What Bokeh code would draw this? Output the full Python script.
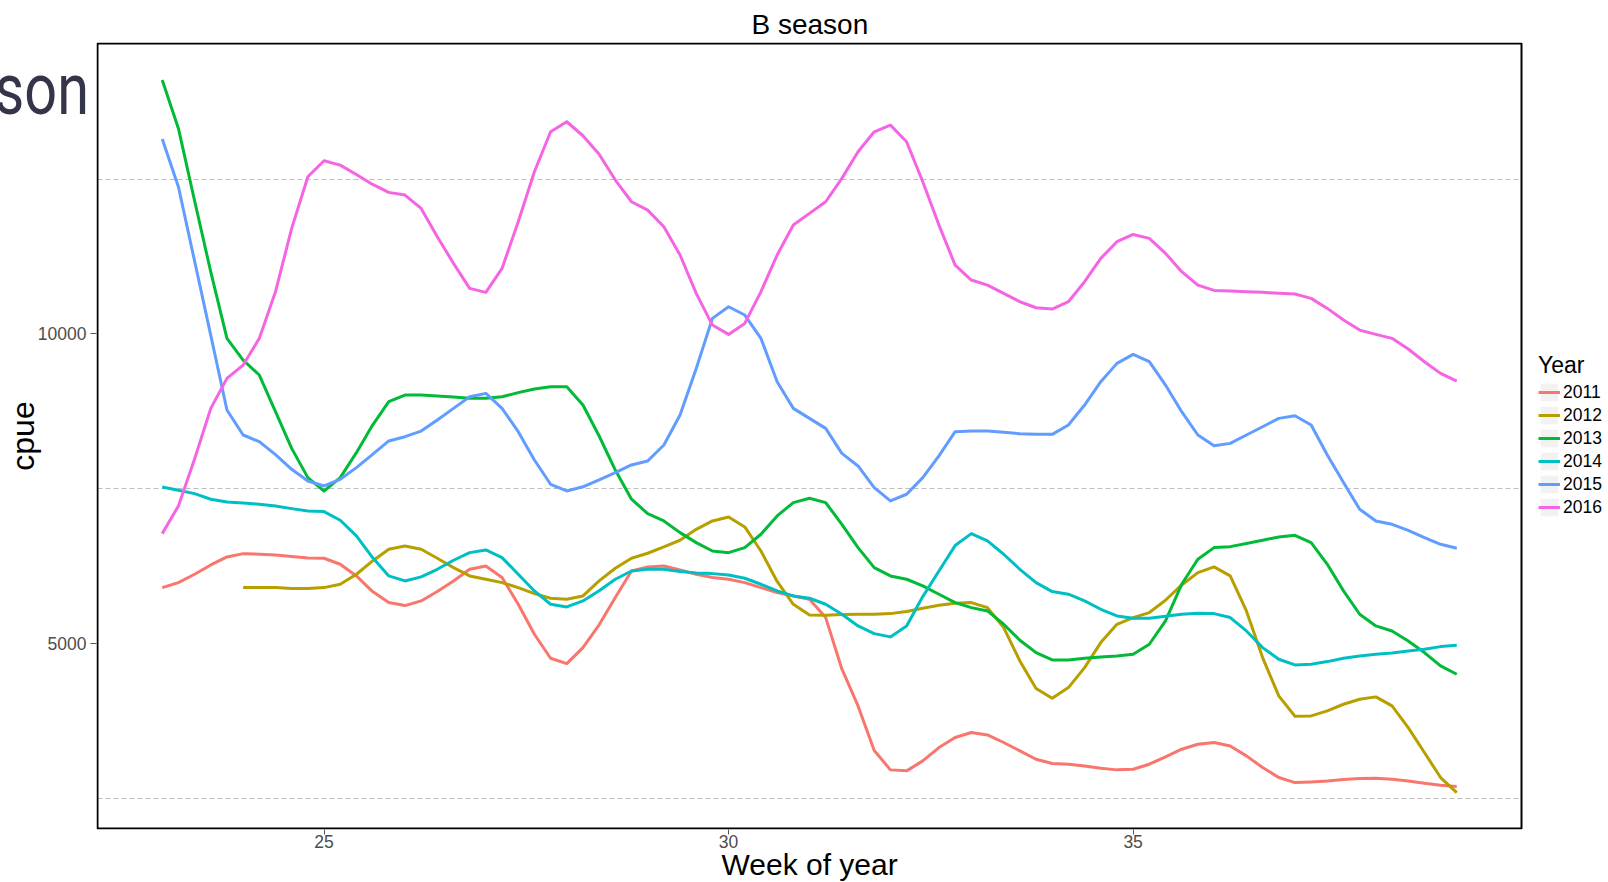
from bokeh.plotting import figure
from bokeh.models import (Range1d, FixedTicker, Legend, LegendItem, Div, Title,
                          BoxAnnotation, Grid)
from bokeh.layouts import column
from bokeh.embed import file_html
from bokeh.resources import INLINE

# ---- data (0.2-week steps) ----
weeks = [round(23 + i * 0.2, 1) for i in range(81)]
weeks_2012 = weeks[5:]

cpue_2011 = [5901, 5982, 6117, 6267, 6396, 6450, 6440, 6429, 6402, 6380,
             6375, 6278, 6090, 5837, 5659, 5611, 5686, 5837, 6009, 6197,
             6251, 6063, 5632, 5148, 4760, 4674, 4932, 5300, 5740, 6170,
             6235, 6251, 6187, 6117, 6063, 6036, 5982, 5901, 5821, 5767,
             5713, 5417, 4587, 3990, 3270, 2957, 2941, 3102, 3317, 3479,
             3560, 3522, 3399, 3264, 3129, 3059, 3048, 3021, 2984, 2957,
             2968, 3048, 3167, 3291, 3371, 3398, 3344, 3183, 2995, 2833,
             2752, 2763, 2779, 2801, 2817, 2822, 2806, 2779, 2741, 2709,
             2688]
cpue_2012 = [5901, 5901, 5901, 5885, 5885, 5901, 5955, 6117, 6332, 6520,
             6574, 6520, 6375, 6224, 6090, 6036, 5982, 5901, 5804, 5729,
             5713, 5767, 6009, 6213, 6375, 6456, 6558, 6666, 6843, 6978,
             7042, 6881, 6493, 6000, 5632, 5460, 5454, 5465, 5471, 5471,
             5481, 5514, 5568, 5616, 5648, 5659, 5578, 5255, 4717, 4270,
             4114, 4286, 4609, 5013, 5309, 5417, 5498, 5697, 5944, 6143,
             6235, 6090, 5524, 4771, 4152, 3823, 3829, 3910, 4017, 4098,
             4136, 3991, 3640, 3237, 2833, 2591]
cpue_2013 = [14099, 13318, 12150, 11000, 9927, 9577, 9335, 8743, 8150, 7678,
             7462, 7678, 8081, 8527, 8904, 9012, 9012, 8995, 8979, 8958,
             8958, 8985, 9050, 9109, 9146, 9146, 8850, 8350, 7800, 7330,
             7096, 6978, 6789, 6628, 6493, 6466, 6547, 6763, 7059, 7274,
             7344, 7274, 6924, 6547, 6224, 6090, 6036, 5928, 5794, 5659,
             5578, 5524, 5309, 5050, 4850, 4733, 4733, 4760, 4782, 4798,
             4825, 4986, 5363, 5955, 6359, 6547, 6563, 6612, 6666, 6720,
             6746, 6628, 6278, 5848, 5471, 5282, 5201, 5040, 4852, 4636,
             4502]
cpue_2014 = [7527, 7473, 7419, 7328, 7285, 7269, 7247, 7220, 7177, 7139,
             7129, 6989, 6736, 6386, 6090, 6009, 6074, 6197, 6343, 6466,
             6510, 6386, 6117, 5847, 5632, 5589, 5686, 5850, 6036, 6170,
             6197, 6197, 6160, 6138, 6127, 6106, 6052, 5955, 5847, 5767,
             5729, 5632, 5471, 5282, 5158, 5105, 5282, 5756, 6170, 6580,
             6773, 6655, 6440, 6197, 5982, 5837, 5794, 5686, 5551, 5444,
             5406, 5406, 5438, 5471, 5487, 5481, 5417, 5201, 4932, 4744,
             4652, 4663, 4706, 4760, 4798, 4825, 4846, 4878, 4905, 4948,
             4970]
cpue_2015 = [13146, 12376, 11176, 9975, 8770, 8366, 8258, 8050, 7812, 7624,
             7543, 7651, 7839, 8054, 8270, 8339, 8430, 8608, 8796, 8985,
             9039, 8796, 8420, 7962, 7570, 7462, 7530, 7640, 7758, 7882,
             7947, 8204, 8689, 9442, 10250, 10438, 10304, 9927, 9227, 8796,
             8635, 8473, 8070, 7866, 7516, 7301, 7409, 7678, 8028, 8420,
             8430, 8430, 8409, 8387, 8377, 8377, 8527, 8850, 9227, 9523,
             9668, 9550, 9173, 8743, 8366, 8193, 8231, 8366, 8500, 8635,
             8678, 8527, 8043, 7600, 7166, 6978, 6924, 6827, 6709, 6601,
             6536]
cpue_2016 = [6773, 7220, 7980, 8796, 9281, 9496, 9927, 10681, 11703, 12538,
             12796, 12726, 12575, 12414, 12285, 12242, 12026, 11569, 11138, 10734,
             10670, 11057, 11811, 12618, 13264, 13426, 13200, 12900, 12484, 12134,
             11999, 11730, 11273, 10654, 10142, 9991, 10169, 10681, 11273, 11757,
             11946, 12134, 12511, 12941, 13264, 13372, 13103, 12457, 11757, 11111,
             10869, 10788, 10654, 10519, 10422, 10401, 10519, 10842, 11219, 11488,
             11606, 11542, 11300, 11004, 10788, 10702, 10691, 10681, 10670, 10654,
             10643, 10573, 10411, 10223, 10061, 9991, 9927, 9755, 9550, 9362,
             9238]

years = ["2011", "2012", "2013", "2014", "2015", "2016"]
colors = ["#F8766D", "#B79F00", "#00BA38", "#00BFC4", "#619CFF", "#F564E3"]
x_ticks = [25, 30, 35]
y_ticks = [5000, 10000]
y_grid = [2500, 7500, 12500]

series = [(weeks, cpue_2011), (weeks_2012, cpue_2012), (weeks, cpue_2013),
          (weeks, cpue_2014), (weeks, cpue_2015), (weeks, cpue_2016)]

FONT = "Liberation Sans"
W, H = 1608, 882

# panel box (ggplot limits) and the pixel box it must occupy
X0, X1 = 22.2, 39.8
Y0, Y1 = 2010, 14690
BOX_L, BOX_R, BOX_T, BOX_B = 97, 1521, 43, 828
FR_L, FR_T, FR_B = 96, 42, 829           # frame (1px larger), extends to the right edge
xs_px = (BOX_R - BOX_L) / (X1 - X0)
ys_px = (BOX_B - BOX_T) / (Y1 - Y0)
x_range = Range1d(X0 - (BOX_L - FR_L) / xs_px, X1 + (W - BOX_R) / xs_px)
y_range = Range1d(Y0 - (FR_B - BOX_B) / ys_px, Y1 + (BOX_T - FR_T) / ys_px)

p = figure(width=W, height=H, output_backend="svg", toolbar_location=None,
           x_range=x_range, y_range=y_range)
p.min_border_left = FR_L
p.min_border_right = 0
p.min_border_top = FR_T
p.min_border_bottom = H - FR_B
p.background_fill_color = "white"
p.border_fill_color = "white"
p.outline_line_color = None

# panel border
p.add_layout(BoxAnnotation(left=X0, right=X1, bottom=Y0, top=Y1,
                           fill_color=None, fill_alpha=0,
                           line_color="black", line_width=2, line_alpha=1))

# title (left aligned with an offset so it is centred over the panel box)
p.title.text = "B season"
p.title.align = "left"
p.title.offset = 655
p.title.text_font = FONT
p.title.text_font_size = "28px"
p.title.text_font_style = "normal"
p.title.text_color = "black"
p.title.standoff = 6

# axes
for ax in (p.xaxis[0], p.yaxis[0]):
    ax.axis_line_color = None
    ax.major_tick_line_color = "#555555"
    ax.major_tick_in = 0
    ax.minor_tick_line_color = None
    ax.major_label_text_font = FONT
    ax.major_label_text_font_size = "17.5px"
    ax.major_label_text_color = "#4d4d4d"
    ax.axis_label_text_font = FONT
    ax.axis_label_text_font_style = "normal"
    ax.axis_label_text_color = "black"
p.xaxis.ticker = FixedTicker(ticks=x_ticks)
p.yaxis.ticker = FixedTicker(ticks=y_ticks)
p.xaxis.major_tick_out = 5
p.xaxis.major_label_standoff = 0
p.yaxis.major_tick_out = 6
p.yaxis.major_label_standoff = 4
p.yaxis.axis_label = "cpue"
p.yaxis.axis_label_text_font_size = "32px"
p.yaxis.axis_label_standoff = -6

p.add_layout(Title(text="Week of year", align="left", offset=625, standoff=-10,
                   text_font=FONT, text_font_size="30px",
                   text_font_style="normal", text_color="black"), "below")

# grid: only dashed lines at the in-between values, limited to the panel box
p.xgrid.grid_line_color = None
p.ygrid.ticker = FixedTicker(ticks=y_grid)
p.ygrid.grid_line_color = "#bdbdbd"
p.ygrid.grid_line_dash = "5 3"
p.ygrid.grid_line_width = 1
if "cross_bounds" in Grid.properties():
    p.ygrid.cross_bounds = (X0, X1)
else:
    p.ygrid.grid_line_color = None
    p.segment(x0=[X0] * len(y_grid), x1=[X1] * len(y_grid), y0=y_grid, y1=y_grid,
              line_color="#bdbdbd", line_dash="5 3", line_width=1)

# legend key background helper (no visible marks)
bg = p.quad(left=[float("nan")], right=[float("nan")], top=[float("nan")],
            bottom=[float("nan")], fill_color="#f2f2f2", line_color=None)

items = []
for yr, col, (xs, ys) in zip(years, colors, series):
    r = p.line(xs, ys, line_color=col, line_width=3, line_join="round")
    items.append(LegendItem(label=yr, renderers=[bg, r]))

legend = Legend(items=items, location=(1538 - FR_L, FR_B - 518), title="Year",
                padding=0, margin=0, spacing=1,
                glyph_width=22, glyph_height=22, label_height=22,
                label_standoff=3,
                label_text_font=FONT, label_text_font_size="17.5px",
                label_text_color="black",
                title_text_font=FONT, title_text_font_size="23px",
                title_text_font_style="normal", title_text_color="black",
                title_standoff=2,
                background_fill_alpha=0, border_line_alpha=0)
p.add_layout(legend, "center")

# large cut-off slide text at the top-left corner
son = Div(text="season", width=300, height=80,
          styles={"position": "absolute", "left": "-216px", "top": "49px",
                  "width": "300px", "text-align": "right",
                  "font-family": "Roboto, sans-serif",
                  "font-size": "72px", "line-height": "72px",
                  "transform": "scaleX(0.8)", "transform-origin": "right center",
                  "color": "#35354a", "white-space": "nowrap"})

page = column(p, son)
open("out.html", "w").write(file_html(page, INLINE))
